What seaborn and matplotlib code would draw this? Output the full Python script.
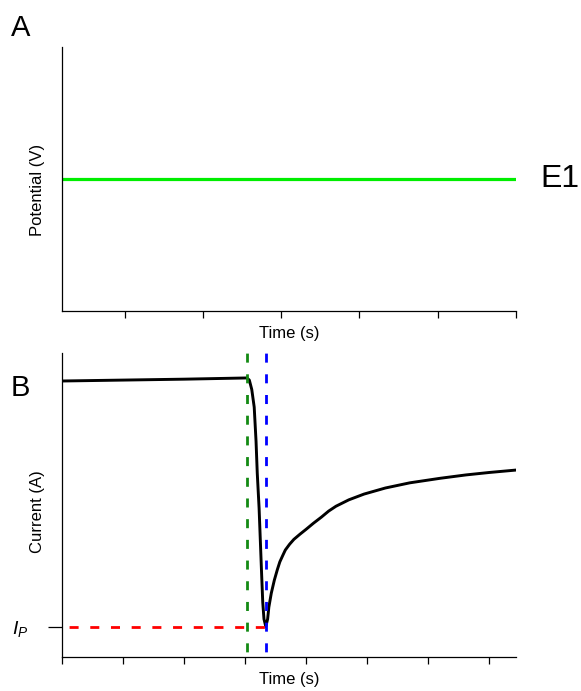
import numpy as np
import pandas as pd
import matplotlib
matplotlib.use('Agg')
import matplotlib.pyplot as plt
import seaborn as sns

# --- Panel A: applied potential step (constant E1) ---
pot_time = [0.2, 6.0]
pot_value = [0.5, 0.5]
pot_xticks = [1, 2, 3, 4, 5, 6]

# --- Panel B: current response ---
cur_time = [0.0, 1.0, 2.0, 3.03, 3.07, 3.11, 3.15, 3.18, 3.20, 3.23, 3.25, 3.27, 3.29,
            3.31, 3.34, 3.37, 3.39, 3.43, 3.48, 3.53, 3.57, 3.62, 3.66, 3.73, 3.80,
            3.90, 4.0, 4.12, 4.25, 4.37, 4.49, 4.70, 4.95, 5.30, 5.70, 6.20, 6.62,
            7.0, 7.44]
cur_value = [9.08, 9.11, 9.14, 9.18, 9.11, 8.80, 8.22, 7.10, 6.05, 4.90, 3.85, 2.80, 1.80,
             1.25, 1.00, 1.25, 1.64, 2.10, 2.53, 2.88, 3.13, 3.35, 3.52, 3.71, 3.87,
             4.04, 4.20, 4.40, 4.60, 4.80, 4.96, 5.17, 5.36, 5.56, 5.73, 5.88, 5.99,
             6.07, 6.15]
step_time = 3.03
cur_xticks = [0, 1, 2, 3, 4, 5, 6, 7]

pot_df = pd.DataFrame({'t': pot_time, 'E': pot_value})
cur_df = pd.DataFrame({'t': cur_time, 'I': cur_value})
i_peak = int(np.argmin(cur_value))
peak_t, peak_i = cur_time[i_peak], cur_value[i_peak]

sns.set_style('ticks')
plt.rcParams['font.family'] = ['Liberation Sans', 'DejaVu Sans']
plt.rcParams['mathtext.fontset'] = 'custom'
plt.rcParams['mathtext.it'] = 'Liberation Sans:italic'
plt.rcParams['mathtext.rm'] = 'Liberation Sans'
plt.rcParams['text.color'] = 'black'
plt.rcParams['axes.labelcolor'] = 'black'
plt.rcParams['xtick.color'] = 'black'
plt.rcParams['ytick.color'] = 'black'
plt.rcParams['axes.edgecolor'] = 'black'

fig = plt.figure(figsize=(5.81, 6.91), dpi=100)
axA = fig.add_axes([0.1067, 0.5499, 0.7814, 0.3821])
axB = fig.add_axes([0.1067, 0.0492, 0.7814, 0.4399])

# dash 9 px, gap ~11.5 px, starting inside a gap
dash_v = (5.6, (3.25, 4.2))
dash_h = (4.9, (3.25, 4.2))

# Panel A
sns.lineplot(data=pot_df, x='t', y='E', ax=axA, color='#00ee00', linewidth=2.3)
axA.set_xlim(0.2, 6.0)
axA.set_ylim(0, 1)
axA.set_xticks(pot_xticks)
axA.set_xticklabels([])
axA.set_yticks([])
axA.set_xlabel('Time (s)', fontsize=12)
axA.set_ylabel('Potential (V)', fontsize=12)
axA.xaxis.set_label_coords(0.5, -0.058)
axA.yaxis.set_label_coords(-0.037, 0.46)
axA.text(1.053, 0.5, 'E1', transform=axA.transAxes, fontsize=23, va='center', ha='left')
fig.text(0.019, 0.959, 'A', fontsize=21, va='center', ha='left')

# Panel B
sns.lineplot(data=cur_df, x='t', y='I', ax=axB, color='black', linewidth=2.1, sort=False)
axB.axvline(step_time, color='#138a13', linestyle=dash_v, linewidth=2.0)
axB.axvline(peak_t, color='#0000ff', linestyle=dash_v, linewidth=2.0)
axB.plot([0, peak_t], [peak_i, peak_i], color='#ff0000', linestyle=dash_h, linewidth=2.0)
axB.set_xlim(0, 7.44)
axB.set_ylim(0, 10)
axB.set_xticks(cur_xticks)
axB.set_xticklabels([])
axB.set_yticks([peak_i])
axB.set_yticklabels([r'$I_P$'], fontsize=14)
axB.set_xlabel('Time (s)', fontsize=12)
axB.set_ylabel('Current (A)', fontsize=12)
axB.xaxis.set_label_coords(0.5, -0.05)
axB.yaxis.set_label_coords(-0.037, 0.477)
fig.text(0.019, 0.4385, 'B', fontsize=21, va='center', ha='left')

for ax in (axA, axB):
    sns.despine(ax=ax)
    for s in ('left', 'bottom'):
        ax.spines[s].set_linewidth(0.9)
    ax.tick_params(axis='x', direction='out', length=5, width=0.9)
axB.tick_params(axis='y', direction='out', length=10, width=0.9, pad=14)

fig.savefig('out.png', dpi=100)
